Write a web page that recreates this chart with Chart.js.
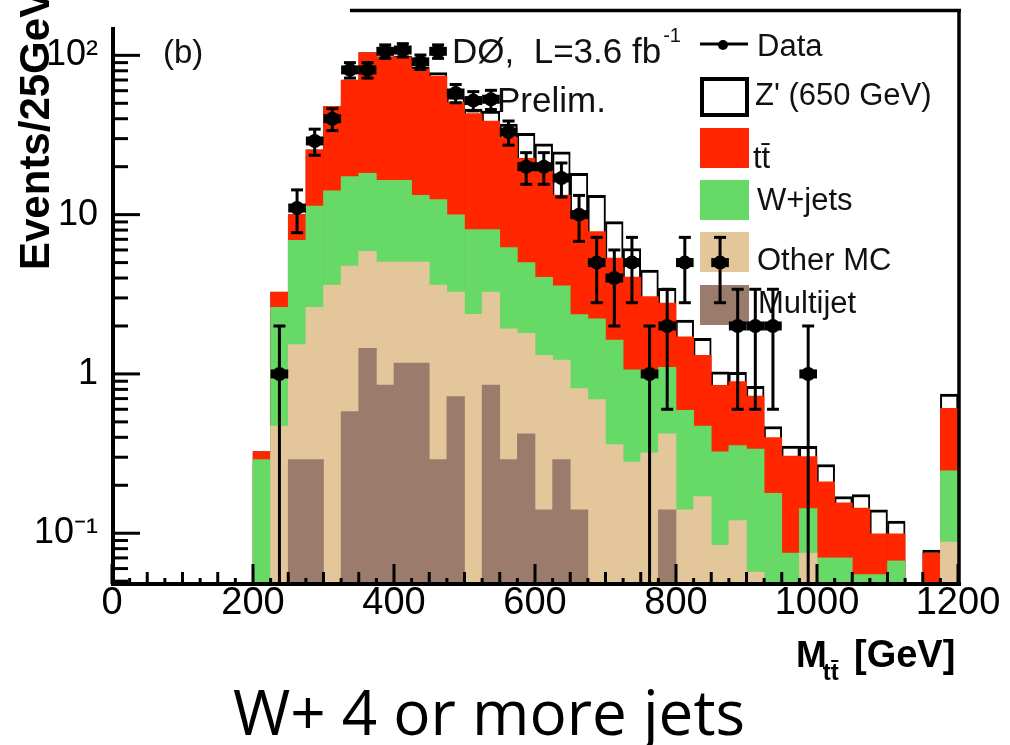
<!DOCTYPE html>
<html>
<head>
<meta charset="utf-8">
<title>Mtt W+4 jets</title>
<script src="https://cdn.jsdelivr.net/npm/chart.js@4.4.1/dist/chart.umd.min.js"></script>
<style>
  html, body { margin: 0; padding: 0; background: #fff; overflow: hidden; }
  #chart { display: block; }
</style>
</head>
<body>
<canvas id="chart" width="1010" height="745"></canvas>
<script>
const FONT = '"Liberation Sans", Arial, Helvetica, sans-serif';

// 25 GeV bins, lower edges
const binLow = [200, 225, 250, 275, 300, 325, 350, 375, 400, 425,
                450, 475, 500, 525, 550, 575, 600, 625, 650, 675,
                700, 725, 750, 775, 800, 825, 850, 875, 900, 925,
                950, 975, 1000, 1025, 1050, 1075, 1100, 1125, 1150, 1175];

// per-sample contributions (events / bin), bottom of the stack first
const multijet = [0, 0, 0.29, 0.29, 0, 0.58, 1.45, 0.85, 1.17, 1.17,
                  0.29, 0.72, 0, 0.85, 0.29, 0.42, 0.14, 0.29, 0.14, 0,
                  0, 0, 0, 0.14, 0, 0, 0, 0, 0, 0,
                  0, 0, 0, 0, 0, 0, 0, 0, 0, 0];
const otherMC = [0, 0.47, 1.24, 2.33, 3.61, 4.17, 4.43, 4.18, 3.86, 3.86,
                 3.32, 2.54, 2.37, 2.41, 1.63, 1.38, 1.17, 0.93, 0.67, 0.69,
                 0.36, 0.28, 0.32, 0.28, 0.14, 0.17, 0.084, 0.12, 0.057, 0,
                 0, 0.075, 0, 0, 0, 0, 0, 0, 0, 0.088];
const wjets = [0.29, 2.15, 5.37, 8.7, 10.5, 12.6, 12.3, 11.4, 11.4, 8.2,
               8.8, 6.7, 5.7, 4.8, 4.3, 3.2, 2.73, 2.35, 1.55, 1.53,
               1.27, 0.78, 0.74, 0.68, 0.45, 0.30, 0.24, 0.235, 0.28, 0.178,
               0.075, 0.068, 0.07, 0.07, 0.055, 0.055, 0.067, 0, 0, 0.158];
const ttbar = [0.035, 0.64, 3.1, 14.2, 33.8, 52.6, 85.8, 81.6, 81.6, 68.8,
               61.6, 41, 35, 30.6, 24.3, 17.6, 15, 9.7, 7.1, 5.6,
               3.7, 3.0, 2.0, 1.68, 1.12, 0.84, 0.525, 0.54, 0.39, 0.22,
               0.23, 0.16, 0.14, 0.085, 0.089, 0.044, 0.032, 0, 0.075, 0.363];
const zprime = [0, 0, 0, 0, 0, 0, 0, 0, 1, 2,
                4, 4, 3, 6, 6.5, 9.8, 8.8, 11.5, 8.7, 5.4,
                3.7, 2.07, 1.42, 0.67, 0.47, 0.36, 0.18, 0.13, 0.11, 0.07,
                0.048, 0.048, 0.06, 0.015, 0.031, 0.041, 0.02, 0, 0.0035, 0.137];

// data points (bin centre, events, error)
const dataMass = [237.5, 262.5, 287.5, 312.5, 337.5, 362.5, 387.5, 412.5, 437.5, 462.5,
                  487.5, 512.5, 537.5, 562.5, 587.5, 612.5, 637.5, 662.5, 687.5, 712.5,
                  737.5, 762.5, 787.5, 812.5, 862.5, 887.5, 912.5, 937.5, 987.5];
const dataEvents = [1, 11, 29, 40, 81, 81, 106, 108, 91, 106,
                    58, 52, 53, 33, 20, 20, 17, 10, 5, 4,
                    5, 1, 2, 5, 5, 2, 2, 2, 1];
const dataErr = [1, 3.3, 5.4, 6.3, 9, 9, 10.3, 10.4, 9.5, 10.3,
                 7.6, 7.2, 7.3, 5.7, 4.5, 4.5, 4.1, 3.2, 2.2, 2,
                 2.2, 1, 1.4, 2.2, 2.2, 1.4, 1.4, 1.4, 1];

const xTickValues = [0, 200, 400, 600, 800, 1000, 1200];
const xTickLabels = ['0', '200', '400', '600', '800', '1000', '1200'];
const yTickValues = [0.1, 1, 10, 100];
const yTickLabels = ['10\u207B\u00B9', '1', '10', '10\u00B2'];
const legendLabels = ['Data', "Z' (650 GeV)", 'tt\u0304', 'W+jets', 'Other MC', 'Multijet'];

const COL = { multijet: '#9b7b6b', other: '#e3c699', wjets: '#66d966', ttbar: '#ff2600' };

// running sums -> top edge of every layer of the stack
const cumulative = [];
let running = binLow.map(() => 0);
[multijet, otherMC, wjets, ttbar, zprime].forEach(s => {
  running = running.map((r, i) => r + s[i]);
  cumulative.push(running.slice());
});
const histo = vals => binLow.map((lo, i) => ({ x: lo + 12.5, y: vals[i] > 0 ? vals[i] : null }));

function line(ctx, x1, y1, x2, y2) { ctx.beginPath(); ctx.moveTo(x1, y1); ctx.lineTo(x2, y2); ctx.stroke(); }

function drawLegend(chart) {
  const ctx = chart.ctx;
  ctx.save();
  ctx.textAlign = 'left'; ctx.textBaseline = 'alphabetic';
  ctx.font = '31px ' + FONT;
  // Data
  ctx.strokeStyle = '#000'; ctx.lineWidth = 3;
  line(ctx, 700, 44, 748, 44);
  ctx.beginPath(); ctx.arc(723, 45, 5, 0, Math.PI * 2); ctx.fillStyle = '#000'; ctx.fill();
  ctx.fillStyle = '#111';
  ctx.fillText(legendLabels[0], 757, 56);
  // Z'
  ctx.lineWidth = 4; ctx.strokeRect(702, 79, 45, 36);
  ctx.fillText(legendLabels[1], 755, 105);
  // filled boxes
  const boxes = [[COL.ttbar, 128, 168, 753], [COL.wjets, 180, 210, 757], [COL.other, 232, 270, 757], [COL.multijet, 285, 313, 758]];
  boxes.forEach((b, i) => {
    ctx.fillStyle = b[0]; ctx.fillRect(700, b[1], 49, 40);
    ctx.fillStyle = '#111'; ctx.fillText(legendLabels[i + 2], b[3], b[2]);
  });
  ctx.restore();
}

function drawAnnotations(chart) {
  const ctx = chart.ctx;
  ctx.save();
  ctx.fillStyle = '#111'; ctx.textAlign = 'left'; ctx.textBaseline = 'alphabetic';
  ctx.font = '33px ' + FONT;
  ctx.fillText('(b)', 163, 63);
  ctx.font = '35px ' + FONT;
  const lumi = 'D\u00D8,  L=3.6 fb';
  ctx.fillText(lumi, 452, 63);
  const w = ctx.measureText(lumi).width;
  ctx.font = '20px ' + FONT;
  ctx.fillText('-1', 452 + w + 2, 42);
  ctx.font = '35px ' + FONT;
  ctx.fillText('Prelim.', 497, 112);
  ctx.restore();
}

function drawErrorBars(chart) {
  const { ctx, chartArea: ca } = chart;
  const x = chart.scales.x, y = chart.scales.y;
  ctx.save();
  ctx.strokeStyle = '#000'; ctx.lineCap = 'butt';
  dataMass.forEach((m, i) => {
    const n = dataEvents[i], e = dataErr[i];
    const px = x.getPixelForValue(m), py = y.getPixelForValue(n);
    const lo = n - e > 0 ? y.getPixelForValue(n - e) : ca.bottom;
    const hi = y.getPixelForValue(n + e);
    ctx.lineWidth = 9;
    line(ctx, x.getPixelForValue(m - 12.5), py, x.getPixelForValue(m + 12.5), py);
    ctx.lineWidth = 3;
    line(ctx, px, hi, px, lo);
    line(ctx, px - 6, hi, px + 6, hi);
    if (n - e > 0) line(ctx, px - 6, lo, px + 6, lo);
  });
  ctx.restore();
}

function drawFrame(chart) {
  const { ctx, chartArea: ca } = chart;
  const x = chart.scales.x, y = chart.scales.y;
  ctx.save();
  ctx.strokeStyle = '#000'; ctx.lineCap = 'butt';
  ctx.lineWidth = 3;
  for (let d = -2; d <= 2; d++) {
    for (let k = 1; k <= 9; k++) {
      const v = k * Math.pow(10, d);
      if (v < y.min || v > y.max) continue;
      const py = y.getPixelForValue(v);
      line(ctx, ca.left, py, ca.left + (k === 1 ? 28 : 16), py);
    }
  }
  for (let v = 0; v <= 1200; v += 25) {
    const px = x.getPixelForValue(v);
    const len = v % 200 === 0 ? 20 : (v % 50 === 0 ? 12 : 6);
    line(ctx, px, ca.bottom, px, ca.bottom - len);
  }
  ctx.lineWidth = 4;
  line(ctx, ca.left + 1, 27, ca.left + 1, ca.bottom + 2);
  line(ctx, ca.left - 1, ca.bottom, ca.right + 3, ca.bottom);
  ctx.lineWidth = 3.5;
  line(ctx, ca.right + 1, ca.top, ca.right + 1, ca.bottom + 2);
  line(ctx, 350, ca.top + 0.5, ca.right + 3, ca.top + 0.5);
  ctx.restore();
}

function drawTitles(chart) {
  const ctx = chart.ctx;
  ctx.save();
  ctx.fillStyle = '#000'; ctx.textBaseline = 'alphabetic'; ctx.textAlign = 'left';
  // y title, rotated (runs off the top edge as in the scan)
  ctx.save();
  ctx.translate(49, 270); ctx.rotate(-Math.PI / 2);
  ctx.font = 'bold 42px ' + FONT;
  ctx.fillText('Events/25GeV', 0, 0);
  ctx.restore();
  // x title
  ctx.font = 'bold 37px ' + FONT;
  ctx.fillText('M', 796, 667);
  const mw = ctx.measureText('M').width;
  ctx.font = 'bold 24px ' + FONT;
  ctx.fillText('tt\u0304', 796 + mw - 4, 680);
  ctx.font = 'bold 38px ' + FONT;
  ctx.fillText('[GeV]', 854, 667);
  // caption
  ctx.font = '62px "Open Sans", "Noto Sans", sans-serif';
  ctx.textAlign = 'center';
  ctx.fillText('W+ 4 or more jets', 489, 735);
  ctx.restore();
}

const rootStyle = {
  id: 'rootStyle',
  beforeDatasetsDraw(chart) { drawLegend(chart); },
  afterDatasetsDraw(chart) { drawAnnotations(chart); drawErrorBars(chart); },
  afterDraw(chart) { drawFrame(chart); drawTitles(chart); }
};

const chart = new Chart(document.getElementById('chart'), {
  type: 'bar',
  data: {
    datasets: [
      { type: 'line', label: 'Data', data: dataMass.map((m, i) => ({ x: m, y: dataEvents[i] })),
        showLine: false, pointRadius: 7, pointHoverRadius: 7, pointBackgroundColor: '#000',
        pointBorderWidth: 0, order: 0 },
      { label: 'Multijet', data: histo(cumulative[0]), backgroundColor: COL.multijet, order: 1 },
      { label: 'Other MC', data: histo(cumulative[1]), backgroundColor: COL.other, order: 2 },
      { label: 'W+jets', data: histo(cumulative[2]), backgroundColor: COL.wjets, order: 3 },
      { label: 'ttbar', data: histo(cumulative[3]), backgroundColor: COL.ttbar, order: 4 },
      { label: "Z' (650 GeV)", data: histo(cumulative[4]), backgroundColor: '#fff', borderColor: '#000',
        borderWidth: { top: 3, left: 2, right: 2, bottom: 0 }, borderSkipped: 'start', order: 5 }
    ]
  },
  options: {
    responsive: false,
    animation: false,
    events: [],
    layout: { padding: { top: 10, right: 52, left: 0, bottom: 0 } },
    datasets: { bar: { grouped: false, categoryPercentage: 1, barPercentage: 1 } },
    plugins: { legend: { display: false }, tooltip: { enabled: false } },
    scales: {
      x: {
        type: 'linear', min: 0, max: 1200, offset: false,
        grid: { display: false, drawTicks: false }, border: { display: false },
        afterBuildTicks: s => { s.ticks = xTickValues.map(v => ({ value: v })); },
        ticks: { color: '#000', font: { family: FONT, size: 38, lineHeight: 1 }, padding: 1,
                 maxRotation: 0, autoSkip: false, callback: (v, i) => xTickLabels[i] },
        afterFit: s => { s.height = 161; s.paddingLeft = 0; s.paddingRight = 0; }
      },
      y: {
        type: 'logarithmic', min: 0.048, max: 192.6, bounds: 'data',
        grid: { display: false, drawTicks: false }, border: { display: false },
        afterBuildTicks: s => { s.ticks = yTickValues.map(v => ({ value: v })); },
        ticks: { color: '#000', font: { family: FONT, size: 36 }, padding: 14,
                 callback: (v, i) => yTickLabels[i] },
        afterFit: s => { s.width = 112; s.paddingTop = 0; s.paddingBottom = 0; }
      }
    }
  },
  plugins: [rootStyle]
});
</script>
</body>
</html>
